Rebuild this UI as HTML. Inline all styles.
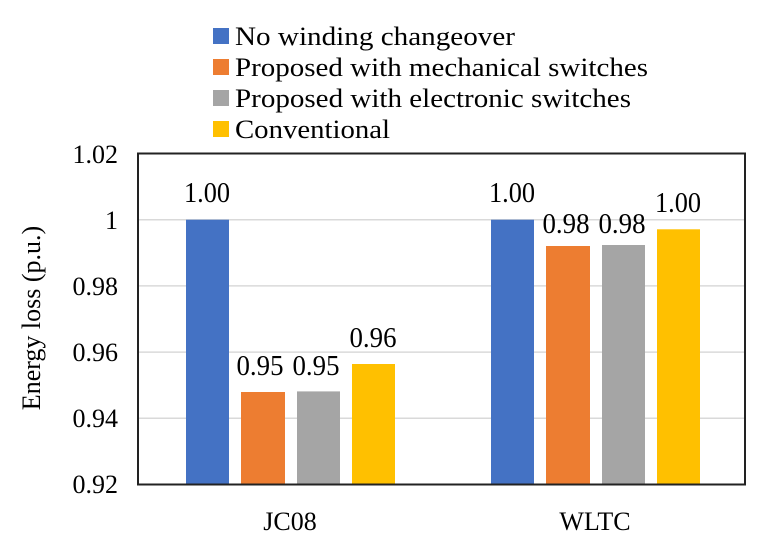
<!DOCTYPE html>
<html><head><meta charset="utf-8"><style>body{margin:0;background:#fff}svg text{font-family:"Liberation Serif",serif}</style></head><body>
<svg width="770" height="540" xmlns="http://www.w3.org/2000/svg" fill="#000">
<g font-size="26">
<rect x="213" y="28" width="16" height="16" fill="#4472C4"/><text x="235" y="45" textLength="280" lengthAdjust="spacingAndGlyphs">No winding changeover</text>
<rect x="213" y="59" width="16" height="16" fill="#ED7D31"/><text x="235" y="76" textLength="413" lengthAdjust="spacingAndGlyphs">Proposed with mechanical switches</text>
<rect x="213" y="90" width="16" height="16" fill="#A5A5A5"/><text x="235" y="107" textLength="396" lengthAdjust="spacingAndGlyphs">Proposed with electronic switches</text>
<rect x="213" y="121" width="16" height="16" fill="#FFC000"/><text x="235" y="138" textLength="155" lengthAdjust="spacingAndGlyphs">Conventional</text>
</g>
<g stroke="#d9d9d9" stroke-width="1.5">
<line x1="138" x2="745" y1="219.7" y2="219.7"/><line x1="138" x2="745" y1="285.9" y2="285.9"/><line x1="138" x2="745" y1="352.1" y2="352.1"/><line x1="138" x2="745" y1="418.3" y2="418.3"/>
</g>
<rect x="186" y="219.7" width="43" height="265" fill="#4472C4"/>
<rect x="241" y="392" width="44" height="93" fill="#ED7D31"/>
<rect x="297" y="391.4" width="43" height="93" fill="#A5A5A5"/>
<rect x="352" y="364" width="43" height="120" fill="#FFC000"/>
<rect x="491" y="219.7" width="43" height="265" fill="#4472C4"/>
<rect x="546" y="246" width="44" height="239" fill="#ED7D31"/>
<rect x="602" y="245" width="43" height="240" fill="#A5A5A5"/>
<rect x="657" y="229.3" width="43" height="256" fill="#FFC000"/>
<rect x="138" y="153.5" width="607" height="331" fill="none" stroke="#222" stroke-width="2"/>
<g font-size="28" text-anchor="middle" lengthAdjust="spacingAndGlyphs">
<text x="207" y="202" textLength="46" lengthAdjust="spacingAndGlyphs">1.00</text><text x="260" y="375" textLength="47" lengthAdjust="spacingAndGlyphs">0.95</text><text x="316" y="375" textLength="47" lengthAdjust="spacingAndGlyphs">0.95</text><text x="373" y="347" textLength="47" lengthAdjust="spacingAndGlyphs">0.96</text>
<text x="512" y="202" textLength="46" lengthAdjust="spacingAndGlyphs">1.00</text><text x="566" y="233" textLength="47" lengthAdjust="spacingAndGlyphs">0.98</text><text x="622" y="233" textLength="47" lengthAdjust="spacingAndGlyphs">0.98</text><text x="678" y="212" textLength="46" lengthAdjust="spacingAndGlyphs">1.00</text>
</g>
<g font-size="26" text-anchor="end">
<text x="118" y="163">1.02</text><text x="118" y="229">1</text><text x="118" y="295">0.98</text><text x="118" y="361">0.96</text><text x="118" y="427">0.94</text><text x="118" y="493">0.92</text>
</g>
<g font-size="26" text-anchor="middle">
<text x="290" y="530">JC08</text><text x="595" y="530">WLTC</text>
<text transform="translate(40,318) rotate(-90)">Energy loss (p.u.)</text>
</g>
</svg>
</body></html>
